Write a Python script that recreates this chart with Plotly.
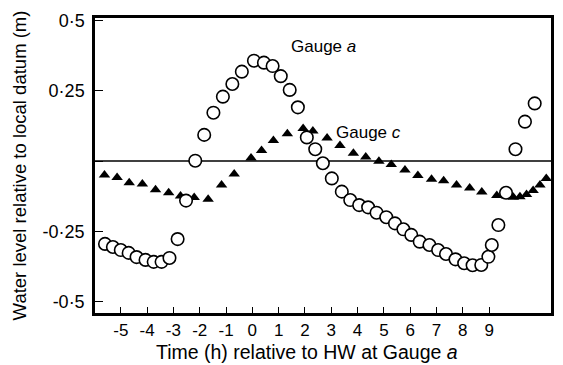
import plotly.graph_objects as go

# Gauge a (open circles): time (h), water level (m)
gauge_a_t = [-5.60, -5.30, -5.00, -4.70, -4.40, -4.06, -3.75, -3.45, -3.15, -2.84, -2.52, -2.17,
             -1.83, -1.48, -1.12, -0.76, -0.40, 0.06, 0.44, 0.77, 1.08, 1.42, 1.73, 2.07, 2.39,
             2.68, 3.02, 3.40, 3.72, 4.06, 4.40, 4.72, 5.09, 5.42, 5.74, 6.04, 6.36, 6.73, 7.06,
             7.36, 7.72, 8.05, 8.37, 8.70, 8.97, 9.10, 9.35, 9.64, 10.00, 10.36, 10.73]
gauge_a_v = [-0.295, -0.306, -0.317, -0.327, -0.342, -0.352, -0.359, -0.359, -0.345, -0.278, -0.141, 0.001,
             0.093, 0.172, 0.229, 0.274, 0.318, 0.357, 0.350, 0.338, 0.302, 0.253, 0.191, 0.084, 0.042,
             -0.008, -0.062, -0.109, -0.139, -0.157, -0.165, -0.184, -0.200, -0.222, -0.243, -0.263, -0.287, -0.299, -0.317,
             -0.331, -0.350, -0.364, -0.371, -0.370, -0.341, -0.299, -0.228, -0.113, 0.042, 0.140, 0.205]

# Gauge c (filled triangles)
gauge_c_t = [-5.62, -5.14, -4.68, -4.18, -3.68, -3.18, -2.73, -2.21, -1.68, -1.17, -0.69, -0.05,
             0.35, 0.80, 1.33, 1.93, 2.30, 2.84, 3.33, 3.84, 4.31, 4.81, 5.28, 5.80, 6.29, 6.81,
             7.27, 7.76, 8.26, 8.72, 9.29, 9.66, 9.92, 10.17, 10.42, 10.67, 10.93, 11.17]
gauge_c_v = [-0.050, -0.059, -0.077, -0.082, -0.102, -0.113, -0.125, -0.130, -0.136, -0.085, -0.046, 0.011,
             0.037, 0.073, 0.097, 0.116, 0.107, 0.082, 0.055, 0.028, 0.014, -0.001, -0.012, -0.032, -0.052, -0.065,
             -0.070, -0.085, -0.096, -0.110, -0.123, -0.125, -0.129, -0.127, -0.119, -0.105, -0.085, -0.062]

x_ticks = [-5, -4, -3, -2, -1, 0, 1, 2, 3, 4, 5, 6, 7, 8, 9]
x_tick_labels = ["-5", "-4", "-3", "-2", "-1", "0", "1", "2", "3", "4", "5", "6", "7", "8", "9"]
y_ticks = [0.5, 0.25, 0, -0.25, -0.5]
y_tick_labels = ["0·5", "0·25", "", "-0·25", "-0·5"]

FONT = "Liberation Sans, Arial, Helvetica, sans-serif"

fig = go.Figure()
fig.add_trace(go.Scatter(
    x=gauge_c_t, y=gauge_c_v, mode="markers",
    marker=dict(symbol="triangle-up", size=10, color="black", line=dict(width=0)),
    showlegend=False))
fig.add_trace(go.Scatter(
    x=gauge_a_t, y=gauge_a_v, mode="markers",
    marker=dict(symbol="circle", size=12.5, color="white", line=dict(color="black", width=1.6)),
    showlegend=False))

fig.add_shape(type="line", xref="paper", x0=0, x1=1, yref="y", y0=0, y1=0,
              line=dict(color="black", width=1.6), layer="below")

fig.add_annotation(x=1.40, y=0.406, text="Gauge <i>a</i>", showarrow=False,
                   xanchor="left", yanchor="middle", font=dict(size=17, color="black", family=FONT))
fig.add_annotation(x=3.12, y=0.103, text="Gauge <i>c</i>", showarrow=False,
                   xanchor="left", yanchor="middle", font=dict(size=17, color="black", family=FONT))

# x-axis title (placed slightly left of the plot centre, as in the original)
fig.add_annotation(xref="paper", yref="paper", x=0.466, y=-0.132,
                   text="Time (h) relative to HW at Gauge <i>a</i>", showarrow=False,
                   xanchor="center", yanchor="middle",
                   font=dict(size=19.5, color="black", family=FONT))

fig.update_layout(
    width=563, height=365,
    margin=dict(l=95, r=9, t=18, b=52),
    paper_bgcolor="white", plot_bgcolor="white",
    font=dict(family=FONT, size=16, color="black"),
    xaxis=dict(range=[-5.98, 11.35], tickvals=x_ticks, ticktext=x_tick_labels,
               ticks="inside", ticklen=6, tickwidth=1.4, tickcolor="black",
               showline=True, linecolor="black", linewidth=2.5, mirror=True,
               showgrid=False, zeroline=False,
               tickfont=dict(size=17)),
    yaxis=dict(range=[-0.541, 0.509], tickvals=y_ticks, ticktext=y_tick_labels,
               ticks="inside", ticklen=8, tickwidth=1.4, tickcolor="black",
               showline=True, linecolor="black", linewidth=2.5, mirror=True,
               showgrid=False, zeroline=False,
               title=dict(text="Water level relative to local datum (m)", standoff=12,
                          font=dict(size=18.5)),
               tickfont=dict(size=18), ticklabelstandoff=4),
)

fig.write_html("out.html")
